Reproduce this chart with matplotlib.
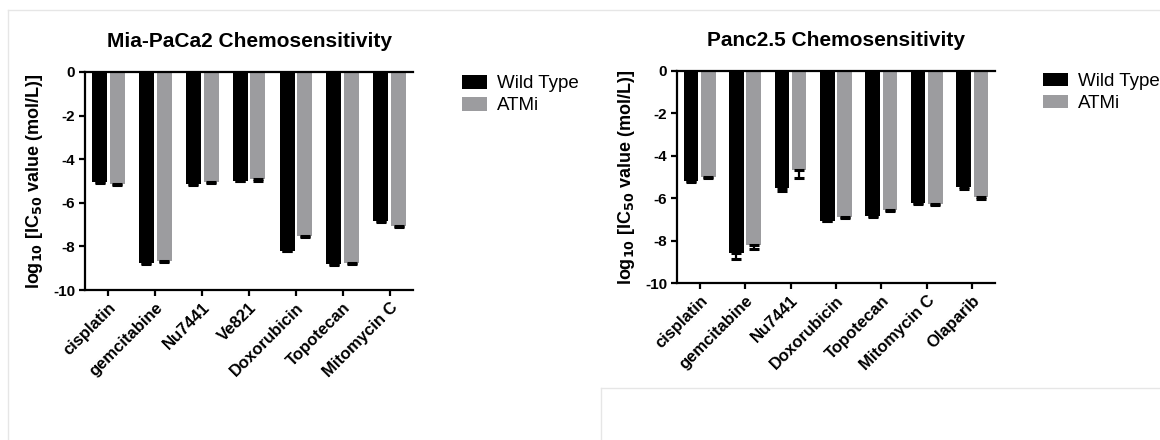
import numpy as np
import matplotlib
matplotlib.use('Agg')
import matplotlib.pyplot as plt
from matplotlib.lines import Line2D

plt.rcParams['font.family'] = ['Liberation Sans', 'DejaVu Sans']
plt.rcParams['axes.unicode_minus'] = False

# Mia-PaCa2 data
miaDrugs = ['cisplatin', 'gemcitabine', 'Nu7441', 'Ve821', 'Doxorubicin', 'Topotecan', 'Mitomycin C']
miaWildType = [-5.05, -8.75, -5.15, -4.98, -8.19, -8.83, -6.85]
miaWildTypeErr = [0.03, 0.04, 0.05, 0.02, 0.02, 0.04, 0.02]
miaATMi = [-5.13, -8.68, -5.03, -4.93, -7.52, -8.76, -7.08]
miaATMiErr = [0.05, 0.04, 0.05, 0.05, 0.06, 0.04, 0.05]

# Panc2.5 data
pancDrugs = ['cisplatin', 'gemcitabine', 'Nu7441', 'Doxorubicin', 'Topotecan', 'Mitomycin C', 'Olaparib']
pancWildType = [-5.2, -8.59, -5.53, -7.08, -6.84, -6.23, -5.5]
pancWildTypeErr = [0.05, 0.3, 0.15, 0.02, 0.05, 0.03, 0.05]
pancATMi = [-5.0, -8.2, -4.67, -6.88, -6.56, -6.28, -5.96]
pancATMiErr = [0.04, 0.2, 0.4, 0.04, 0.05, 0.04, 0.1]

yTicks = [0, -2, -4, -6, -8, -10]
seriesNames = ['Wild Type', 'ATMi']

BLACK = '#000000'
GREY = '#9c9c9f'


def drawPanel(ax, drugs, wt, wtErr, atmi, atmiErr, title, legendAnchor):
    x = np.arange(len(drugs))
    width = 0.32
    offset = 0.19
    ax.bar(x - offset, wt, width, color=BLACK, label=seriesNames[0], zorder=2)
    ax.bar(x + offset, atmi, width, color=GREY, label=seriesNames[1], zorder=2)
    # one-sided error bars, pointing away from zero
    ax.errorbar(x - offset, wt, yerr=[wtErr, np.zeros(len(wt))], fmt='none',
                ecolor='black', elinewidth=1.6, capsize=3.5, capthick=2.2, zorder=3)
    ax.errorbar(x + offset, atmi, yerr=[atmiErr, np.zeros(len(atmi))], fmt='none',
                ecolor='black', elinewidth=1.6, capsize=3.5, capthick=2.2, zorder=3)
    ax.axhline(0, color='black', lw=1.6, zorder=4, clip_on=False)

    ax.set_xlim(-0.5, len(drugs) - 0.5)
    ax.set_ylim(-10, 0)
    ax.set_yticks(yTicks)
    ax.set_yticklabels([str(t) for t in yTicks], fontweight='bold', fontsize=11)
    ax.set_xticks(x)
    ax.set_xticklabels(drugs, rotation=45, ha='right', rotation_mode='anchor',
                       fontweight='bold', fontsize=12)
    ax.tick_params(axis='both', direction='out', length=4, width=1.6, pad=3)

    for side in ['top', 'right']:
        ax.spines[side].set_visible(False)
    for side in ['left', 'bottom']:
        ax.spines[side].set_linewidth(1.6)

    ax.set_ylabel(r'log$_{\mathbf{10}}$ [IC$_{\mathbf{50}}$ value (mol/L)]',
                  fontweight='bold', fontsize=13, labelpad=6)
    ax.set_title(title, fontweight='bold', fontsize=15, pad=18)

    ax.legend(loc='upper left', bbox_to_anchor=legendAnchor, frameon=False,
              borderpad=0, borderaxespad=0, handlelength=1.35, handleheight=0.72,
              handletextpad=0.5, labelspacing=0.25, prop={'size': 13.5})


fig = plt.figure(figsize=(11.6, 4.4), dpi=100)

axLeft = fig.add_axes([0.0733, 0.3409, 0.2828, 0.4955])
drawPanel(axLeft, miaDrugs, miaWildType, miaWildTypeErr, miaATMi, miaATMiErr,
          'Mia-PaCa2 Chemosensitivity', (1.149, 0.985))

axRight = fig.add_axes([0.5836, 0.3568, 0.2741, 0.4825])
drawPanel(axRight, pancDrugs, pancWildType, pancWildTypeErr, pancATMi, pancATMiErr,
          'Panc2.5 Chemosensitivity', (1.151, 0.99))

# faint page borders from the source screenshot
lc = '#e6e6e6'
fig.add_artist(Line2D([8 / 1160, 1], [1 - 10 / 440, 1 - 10 / 440], color=lc, lw=1))
fig.add_artist(Line2D([8 / 1160, 8 / 1160], [0, 1 - 10 / 440], color=lc, lw=1))
fig.add_artist(Line2D([601 / 1160, 1], [1 - 388 / 440, 1 - 388 / 440], color=lc, lw=1))
fig.add_artist(Line2D([601 / 1160, 601 / 1160], [0, 1 - 388 / 440], color=lc, lw=1))

fig.savefig('out.png', dpi=100)
